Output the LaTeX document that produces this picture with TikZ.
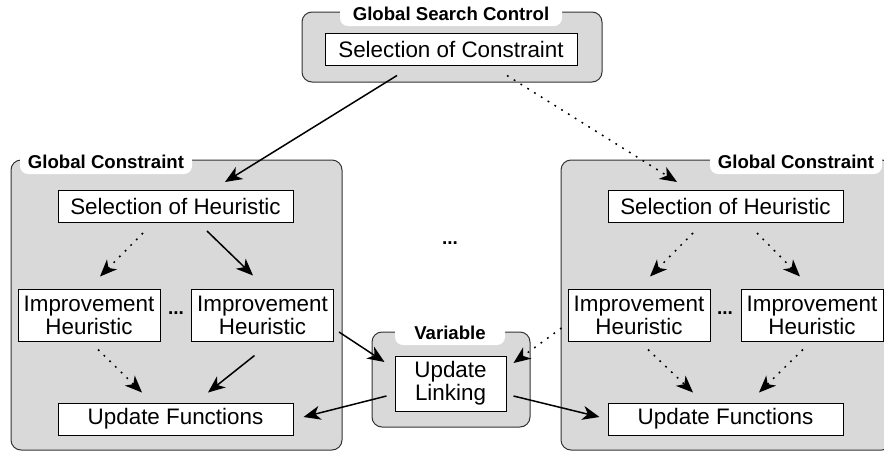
\documentclass[tikz,border=0pt]{standalone}
\usepackage{fontspec}
\setmainfont{Liberation Sans}
\usetikzlibrary{arrows.meta,positioning,calc}

\begin{document}
\begin{tikzpicture}[x=0.5pt,y=-0.5pt,
      box/.style={draw,rectangle,fill=white,line width=.5pt,inner sep=0pt,align=center,font=\fontsize{11.2}{11.6}\selectfont},
      sel/.style={box,minimum width=117.5pt,minimum height=16pt},
      imp/.style={box,minimum width=71pt,minimum height=26pt},
      panel/.style={draw=black!80,fill=black!15,rounded corners=5pt,line width=.5pt,inner sep=0pt},
      tab/.style={fill=white,rounded corners=4pt,anchor=base,text height=7pt,text depth=1pt,inner ysep=2pt,font=\fontsize{9.3}{10}\selectfont\bfseries},
      more/.style={inner sep=0pt,font=\fontsize{9.5}{10}\selectfont\bfseries},
      flow/.style={line width=.75pt,-{Stealth[length=8.5pt,width=7pt,inset=2.5pt]}},
      dflow/.style={flow,dash pattern=on .9pt off 3.1pt}]
      \useasboundingbox (0,0) rectangle (884,451);

      \node[panel,minimum width=150pt,minimum height=35pt] (gsc) at (452,47) {};
      \node[panel,minimum width=165.5pt,minimum height=145pt] (lgc) at (176.5,305) {};
      \node[panel,minimum width=165.5pt,minimum height=145pt] (rgc) at (726.5,305) {};
      \node[panel,minimum width=79pt,minimum height=47.5pt] (var) at (451,379.5) {};

      \node[tab,minimum width=111pt] (gsclabel) at (451,20) {Global Search Control};
      \node[tab,minimum width=86pt] (lgclabel) at (106,168) {Global Constraint};
      \node[tab,minimum width=86pt] (rgclabel) at (796,168) {Global Constraint};
      \node[tab,minimum width=55pt] (varlabel) at (450,339) {Variable};

      \node[box,minimum width=126pt,minimum height=16pt] (soc) at (451,49) {Selection of Constraint};

      \node[sel] (lsel) at (175.5,206.5) {Selection of Heuristic};
      \node[imp] (limp1) at (89,315) {Improvement\\Heuristic};
      \node[imp] (limp2) at (262.5,315) {Improvement\\Heuristic};
      \node[sel] (luf) at (175.5,419) {Update Functions};
      \node[more] (ldots) at (176,313) {...};

      \node[sel] (rsel) at (725.5,206.5) {Selection of Heuristic};
      \node[imp] (rimp1) at (639,315) {Improvement\\Heuristic};
      \node[imp] (rimp2) at (812,315) {Improvement\\Heuristic};
      \node[sel] (ruf) at (725.5,419) {Update Functions};
      \node[more] (rdots) at (725,313) {...};

      \node[box,minimum width=55.5pt,minimum height=27.5pt] (link) at (450.5,383.5) {Update\\Linking};
      \node[more] (mdots) at (450,243) {...};

      \draw[flow] ([shift={(-54,10)}]soc.south) -- ([shift={(49.5,-8)}]lsel.north);
      \draw[dflow] ([shift={(56,10)}]soc.south) -- ([shift={(-48.5,-8)}]rsel.north);

      \draw[dflow] ([shift={(-32.5,10)}]lsel.south) -- ([shift={(11,-12)}]limp1.north);
      \draw[flow] ([shift={(31.5,8)}]lsel.south) -- ([shift={(-9.5,-13)}]limp2.north);
      \draw[dflow] ([shift={(9,8)}]limp1.south) -- ([shift={(-33.5,-10)}]luf.north);
      \draw[flow] ([shift={(-8,14)}]limp2.south) -- ([shift={(32.5,-10)}]luf.north);

      \draw[dflow] ([shift={(-32.5,10)}]rsel.south) -- ([shift={(11,-12)}]rimp1.north);
      \draw[dflow] ([shift={(31.5,10)}]rsel.south) -- ([shift={(-12,-12)}]rimp2.north);
      \draw[dflow] ([shift={(9,8)}]rimp1.south) -- ([shift={(-32.5,-10)}]ruf.north);
      \draw[dflow] ([shift={(-9,8)}]rimp2.south) -- ([shift={(33.5,-10)}]ruf.north);

      \draw[flow] ([shift={(5,17)}]limp2.east) -- ([shift={(-10,-21.5)}]link.west);
      \draw[dflow] ([shift={(-6,13)}]rimp1.west) -- ([shift={(7,-20.5)}]link.east);
      \draw[flow] ([shift={(-8,12.5)}]link.west) -- ([shift={(10,-2)}]luf.east);
      \draw[flow] ([shift={(7,12.5)}]link.east) -- ([shift={(-8,-2)}]ruf.west);
    \end{tikzpicture}
\end{document}
